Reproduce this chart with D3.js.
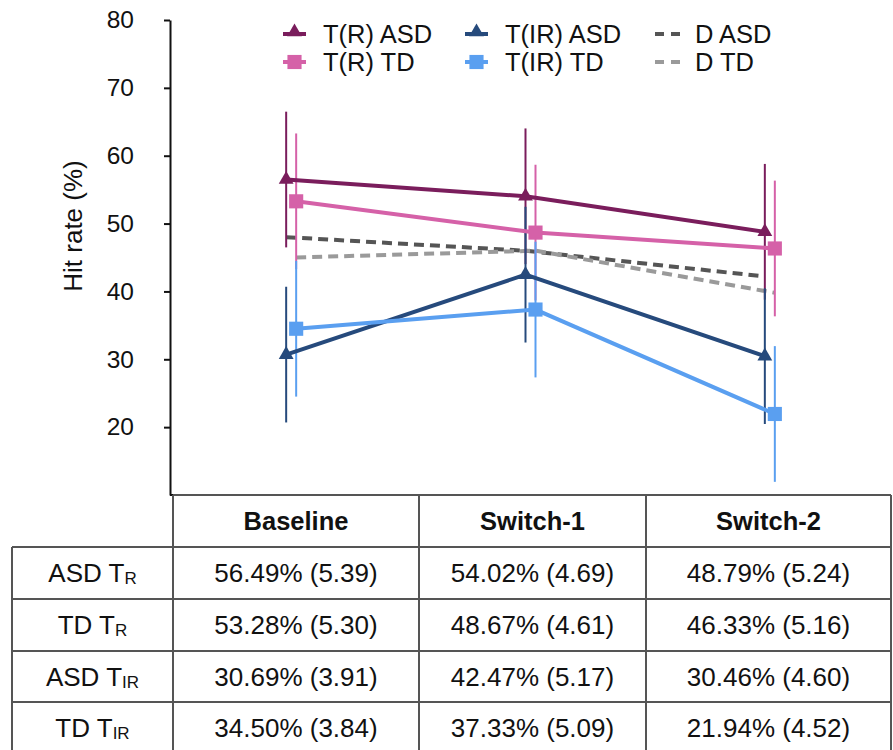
<!DOCTYPE html>
<html>
<head>
<meta charset="utf-8">
<script src="https://cdn.jsdelivr.net/npm/d3@7"></script>
<style>
  body { margin: 0; background: #fff; }
  svg { display: block; font-family: "Liberation Sans", Arial, sans-serif; }
</style>
</head>
<body>
<svg id="chart" width="893" height="750"></svg>
<script>
// data
const categories = ["Baseline", "Switch-1", "Switch-2"];
const asdR = [56.49, 54.02, 48.79];
const tdR = [53.28, 48.67, 46.33];
const asdIR = [30.69, 42.47, 30.46];
const tdIR = [34.50, 37.33, 21.94];
const seAsdR = [5.39, 4.69, 5.24];
const seTdR = [5.30, 4.61, 5.16];
const seAsdIR = [3.91, 5.17, 4.60];
const seTdIR = [3.84, 5.09, 4.52];
const dASD = [48.0, 46.0, 42.2];
const dTD = [45.0, 46.0, 39.8];
// error bars drawn in the figure (+/- 10 points)
const errAsdR = [10, 10, 10];
const errTdR = [10, 10, 10];
const errAsdIR = [10, 10, 10];
const errTdIR = [10, 10, 10];
const yTicks = [20, 30, 40, 50, 60, 70, 80];
const rowLabels = [["ASD T", "R"], ["TD T", "R"], ["ASD T", "IR"], ["TD T", "IR"]];

const svg = d3.select("#chart");

const x = d3.scaleBand()
    .domain(categories)
    .range([173, 891]);

const y = d3.scaleLinear()
    .domain([10, 80])
    .range([495, 20]);

// group: ASD points sit left of centre, TD right
const asdOff = -6.5, tdOff = 3.5;
const cx = (c, off) => x(c) + x.bandwidth() / 2 + off;

const series = [
    {name: "T(R) ASD", values: asdR, err: errAsdR, color: "#7a1d5c", shape: "tri", off: asdOff},
    {name: "T(R) TD", values: tdR, err: errTdR, color: "#d561a8", shape: "sq", off: tdOff},
    {name: "T(IR) ASD", values: asdIR, err: errAsdIR, color: "#264a7c", shape: "tri", off: asdOff},
    {name: "T(IR) TD", values: tdIR, err: errTdIR, color: "#5a9ff0", shape: "sq", off: tdOff}
];
const dashed = [
    {name: "D ASD", values: dASD, color: "#555555", off: asdOff},
    {name: "D TD", values: dTD, color: "#9a9a9a", off: tdOff}
];

// y-axis
const yAxis = svg.append("g")
    .attr("transform", "translate(170,0)")
    .call(d3.axisLeft(y).tickValues(yTicks).tickSize(6).tickPadding(30).tickSizeOuter(0));
yAxis.select(".domain").attr("stroke", "#111").attr("stroke-width", 2);
yAxis.selectAll(".tick line").attr("stroke", "#111").attr("stroke-width", 2);
yAxis.selectAll(".tick text")
    .attr("font-size", 24.5)
    .attr("fill", "#111")
    .attr("font-family", "Liberation Sans, Arial, sans-serif");

// text label for the y axis
svg.append("text")
    .attr("transform", "translate(82,226) rotate(-90)")
    .attr("text-anchor", "middle")
    .attr("font-size", 26)
    .attr("fill", "#111")
    .text("Hit rate (%)");

// x-axis line
svg.append("line")
    .attr("x1", 170).attr("x2", 887)
    .attr("y1", 495).attr("y2", 495)
    .attr("stroke", "#111").attr("stroke-width", 2);

const line = d3.line();

// dashed D lines
dashed.forEach(function (s) {
    svg.append("path")
        .attr("d", line(categories.map((c, i) => [cx(c, s.off), y(s.values[i])])))
        .attr("fill", "none")
        .attr("stroke", s.color)
        .attr("stroke-width", 4)
        .attr("stroke-dasharray", "10,6");
});

// error bars
series.forEach(function (s) {
    svg.selectAll(null)
        .data(categories)
        .enter().append("line")
        .attr("x1", (c) => cx(c, s.off))
        .attr("x2", (c) => cx(c, s.off))
        .attr("y1", (c, i) => y(s.values[i] + s.err[i]))
        .attr("y2", (c, i) => y(s.values[i] - s.err[i]))
        .attr("stroke", s.color)
        .attr("stroke-width", 2);
});

// series lines
series.forEach(function (s) {
    svg.append("path")
        .attr("d", line(categories.map((c, i) => [cx(c, s.off), y(s.values[i])])))
        .attr("fill", "none")
        .attr("stroke", s.color)
        .attr("stroke-width", 4);
});

const triSym = d3.symbol().type(d3.symbolTriangle).size(95);
const sqSym = d3.symbol().type(d3.symbolSquare).size(200);

// markers
series.forEach(function (s) {
    svg.selectAll(null)
        .data(categories)
        .enter().append("path")
        .attr("d", s.shape === "tri" ? triSym() : sqSym())
        .attr("transform", (c, i) => "translate(" + cx(c, s.off) + "," + y(s.values[i]) + ")")
        .attr("fill", s.color);
});

// legend
const legendPos = [
    {x: 283, y: 34}, {x: 283, y: 62}, {x: 465, y: 34}, {x: 465, y: 62}
];
series.forEach(function (s, i) {
    const g = svg.append("g").attr("transform", "translate(" + legendPos[i].x + "," + legendPos[i].y + ")");
    g.append("line").attr("x1", 0).attr("x2", 23).attr("y1", 0).attr("y2", 0)
        .attr("stroke", s.color).attr("stroke-width", 4);
    g.append("path")
        .attr("d", s.shape === "tri" ? triSym() : sqSym())
        .attr("transform", "translate(11.5," + (s.shape === "tri" ? -2 : 0) + ")")
        .attr("fill", s.color);
    g.append("text")
        .attr("x", 40).attr("y", 9)
        .attr("font-size", 25.5)
        .attr("fill", "#111")
        .text(s.name);
});
dashed.forEach(function (s, i) {
    const g = svg.append("g").attr("transform", "translate(655," + (34 + i * 28) + ")");
    g.append("line").attr("x1", 0).attr("x2", 25).attr("y1", 0).attr("y2", 0)
        .attr("stroke", s.color).attr("stroke-width", 4)
        .attr("stroke-dasharray", "9,7");
    g.append("text")
        .attr("x", 40).attr("y", 9)
        .attr("font-size", 25.5)
        .attr("fill", "#111")
        .text(s.name);
});

// table under the chart
const colEdges = [12, 173, 419, 646, 891];
const rowEdges = [495, 547, 599, 651, 702, 754];
const tableColor = "#555";
const tbl = svg.append("g");

// horizontal lines
rowEdges.forEach(function (ry, i) {
    tbl.append("line")
        .attr("x1", i === 0 ? colEdges[1] : colEdges[0]).attr("x2", colEdges[4])
        .attr("y1", ry).attr("y2", ry)
        .attr("stroke", tableColor).attr("stroke-width", 2);
});
// vertical lines
colEdges.forEach(function (cxe, i) {
    tbl.append("line")
        .attr("x1", cxe).attr("x2", cxe)
        .attr("y1", i === 0 ? rowEdges[1] : rowEdges[0]).attr("y2", rowEdges[5])
        .attr("stroke", tableColor).attr("stroke-width", 2);
});

// header
categories.forEach(function (c, j) {
    tbl.append("text")
        .attr("x", (colEdges[j + 1] + colEdges[j + 2]) / 2)
        .attr("y", (rowEdges[0] + rowEdges[1]) / 2 + 9)
        .attr("text-anchor", "middle")
        .attr("font-size", 25.5)
        .attr("font-weight", "bold")
        .attr("fill", "#111")
        .text(c);
});

const tableMeans = [asdR, tdR, asdIR, tdIR];
const tableSE = [seAsdR, seTdR, seAsdIR, seTdIR];

rowLabels.forEach(function (lab, r) {
    const yy = (rowEdges[r + 1] + rowEdges[r + 2]) / 2 + 9;
    const t = tbl.append("text")
        .attr("x", (colEdges[0] + colEdges[1]) / 2)
        .attr("y", yy)
        .attr("text-anchor", "middle")
        .attr("font-size", 26)
        .attr("fill", "#111");
    t.append("tspan").text(lab[0]);
    t.append("tspan").attr("font-size", 17).attr("dy", 2).text(lab[1]);

    categories.forEach(function (c, j) {
        tbl.append("text")
            .attr("x", (colEdges[j + 1] + colEdges[j + 2]) / 2)
            .attr("y", yy)
            .attr("text-anchor", "middle")
            .attr("font-size", 26)
            .attr("fill", "#111")
            .text(tableMeans[r][j].toFixed(2) + "% (" + tableSE[r][j].toFixed(2) + ")");
    });
});
</script>
</body>
</html>
